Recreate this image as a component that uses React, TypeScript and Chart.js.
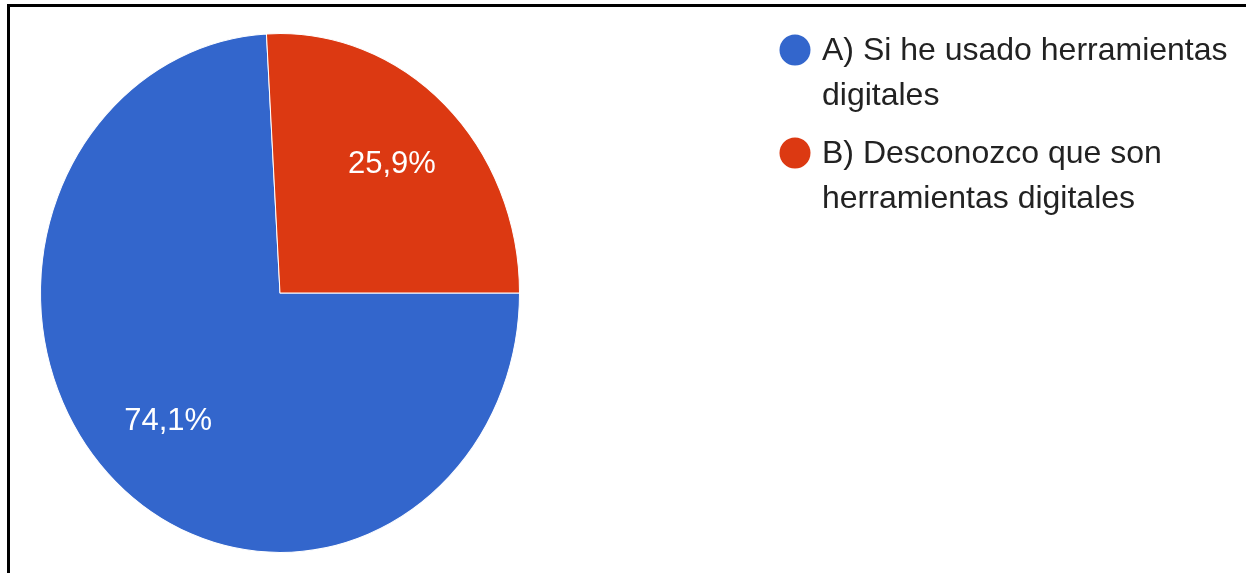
import React, { useEffect, useRef } from "react";
import { Chart, registerables } from "chart.js";

Chart.register(...registerables);

const categories: string[][] = [
  ["A) Si he usado herramientas", "digitales"],
  ["B) Desconozco que son", "herramientas digitales"],
];
const values: number[] = [74.1, 25.9];
const colors: string[] = ["#3366cc", "#dc3912"];

const STRETCH_Y = 260 / 240;
const FONT = '32px "Liberation Sans", Arial, sans-serif';

const stretchPlugin = {
  id: "stretchY",
  beforeDatasetsDraw(chart: any) {
    const arc = chart.getDatasetMeta(0).data[0];
    const ctx = chart.ctx;
    ctx.save();
    ctx.translate(arc.x, arc.y);
    ctx.scale(1, STRETCH_Y);
    ctx.translate(-arc.x, -arc.y);
  },
  afterDatasetsDraw(chart: any) {
    chart.ctx.restore();
  },
};

const labelPlugin = {
  id: "sliceLabels",
  afterDraw(chart: any) {
    const ctx = chart.ctx;
    const data = chart.data.datasets[0].data as number[];
    const total = data.reduce((a, b) => a + b, 0);
    const meta = chart.getDatasetMeta(0);
    ctx.save();
    ctx.font = '31px "Liberation Sans", Arial, sans-serif';
    ctx.fillStyle = "#ffffff";
    ctx.textAlign = "center";
    ctx.textBaseline = "middle";
    meta.data.forEach((arc: any, i: number) => {
      const mid = (arc.startAngle + arc.endAngle) / 2;
      const r = arc.outerRadius * 0.68;
      const x = arc.x + Math.cos(mid) * r;
      const y = arc.y + Math.sin(mid) * r * STRETCH_Y;
      const pct = ((data[i] / total) * 100).toFixed(1).replace(".", ",") + "%";
      ctx.fillText(pct, x, y);
    });
    ctx.restore();
  },
};

const legendPlugin = {
  id: "wrappedLegend",
  afterDraw(chart: any) {
    const ctx = chart.ctx;
    const labels = chart.data.labels as string[][];
    const bg = chart.data.datasets[0].backgroundColor as string[];
    const itemTops = [60, 163];
    const lineGap = 45;
    ctx.save();
    ctx.font = FONT;
    ctx.textAlign = "left";
    ctx.textBaseline = "alphabetic";
    labels.forEach((lines, i) => {
      const base = itemTops[i];
      ctx.fillStyle = bg[i];
      ctx.beginPath();
      ctx.arc(795, base - 10, 15.5, 0, Math.PI * 2);
      ctx.fill();
      ctx.fillStyle = "#222222";
      lines.forEach((line, j) => {
        ctx.fillText(line, 822, base + j * lineGap);
      });
    });
    ctx.restore();
  },
};

export default function App() {
  const canvasRef = useRef<HTMLCanvasElement | null>(null);

  useEffect(() => {
    if (!canvasRef.current) return;
    const chart = new Chart(canvasRef.current, {
      type: "pie",
      data: {
        labels: categories as any,
        datasets: [
          {
            data: values,
            backgroundColor: colors,
            borderColor: "#ffffff",
            borderWidth: 1,
          },
        ],
      },
      options: {
        animation: false,
        responsive: true,
        maintainAspectRatio: false,
        rotation: 90,
        layout: { padding: { left: 40, right: 726, top: 53, bottom: 40 } },
        plugins: {
          legend: { display: false },
          tooltip: { enabled: false },
        },
      },
      plugins: [stretchPlugin, labelPlugin, legendPlugin],
    });
    return () => chart.destroy();
  }, []);

  return (
    <div
      style={{
        position: "fixed",
        left: 0,
        top: 0,
        width: 1246,
        height: 573,
        background: "#ffffff",
        overflow: "hidden",
      }}
    >
      <div
        style={{
          position: "absolute",
          left: 7,
          top: 4,
          right: 0,
          bottom: 0,
          borderTop: "3px solid #000",
          borderLeft: "3px solid #000",
        }}
      />
      <div style={{ position: "absolute", left: 0, top: 0, width: 1246, height: 573 }}>
        <canvas ref={canvasRef} />
      </div>
    </div>
  );
}
